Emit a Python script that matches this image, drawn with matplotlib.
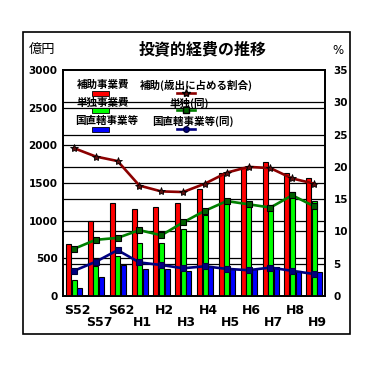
import matplotlib
matplotlib.use("Agg")
import matplotlib.pyplot as plt
import numpy as np
from matplotlib.patches import Rectangle
from matplotlib.lines import Line2D
import matplotlib.transforms as mtransforms

plt.rcParams['font.family'] = ['Noto Sans CJK JP', 'DejaVu Sans']

categories = ["S52", "S57", "S62", "H1", "H2", "H3", "H4", "H5", "H6", "H7", "H8", "H9"]
hojo = [685, 1000, 1230, 1150, 1177, 1230, 1416, 1628, 1717, 1774, 1628, 1571]
tandoku = [208, 398, 527, 699, 699, 885, 1075, 1285, 1235, 1208, 1385, 1261]
chokkatsu = [102, 252, 412, 358, 358, 327, 398, 354, 354, 389, 336, 314]
hojo_pct = [22.9, 21.6, 20.9, 17.1, 16.2, 16.1, 17.4, 19.1, 20.0, 19.8, 18.2, 17.4]
tandoku_pct = [7.3, 8.7, 9.0, 10.2, 9.4, 11.4, 13.2, 14.7, 14.2, 13.7, 15.6, 13.9]
chokkatsu_pct = [3.9, 5.3, 7.1, 5.2, 4.8, 4.3, 4.6, 4.2, 4.0, 4.4, 3.9, 3.4]

left_ticks = [0, 500, 1000, 1500, 2000, 2500, 3000]
right_ticks = [0, 5, 10, 15, 20, 25, 30, 35]

W, H = 367, 382
fig = plt.figure(figsize=(W / 100, H / 100), dpi=100)

def fx(px):
    return px / W

def fy(py):
    return 1 - py / H

# outer frame
fig.patches.append(Rectangle((fx(23), fy(334)), fx(350) - fx(23), fy(32) - fy(334),
                             transform=fig.transFigure, fill=False, edgecolor='black', linewidth=1.2))

ax = fig.add_axes([fx(63), fy(296), fx(325) - fx(63), fy(70) - fy(296)])
ax2 = ax.twinx()

x = np.arange(len(categories))
bw = 0.23
red, green, blue = '#ff0000', '#00ff00', '#0000ff'
ax.bar(x - 0.245, hojo, bw, color=red, edgecolor='black', linewidth=0.8, zorder=3)
ax.bar(x + 0.01, tandoku, bw, color=green, edgecolor='black', linewidth=0.8, zorder=3)
ax.bar(x + 0.265, chokkatsu, bw, color=blue, edgecolor='black', linewidth=0.8, zorder=3)

ax.set_xlim(-0.5, len(categories) - 0.5)
ax.set_ylim(0, 3000)
ax2.set_ylim(0, 35)

# grid lines: left ticks and right ticks (drawn behind bars)
for t in left_ticks[1:-1]:
    ax.axhline(t, color='black', linewidth=0.9, zorder=1)
scale = 3000 / 35
for t in right_ticks[1:-1]:
    ax.axhline(t * scale, color='black', linewidth=0.9, zorder=1)

lw = 1.9
ax2.plot(x, hojo_pct, color='#8b0000', linewidth=lw, marker='*', markersize=6,
         markerfacecolor='#5a1010', markeredgecolor='black', markeredgewidth=0.6, zorder=4)
ax2.plot(x, tandoku_pct, color='#008000', linewidth=lw, marker='s', markersize=5,
         markerfacecolor='#006000', markeredgecolor='black', markeredgewidth=0.8, zorder=4)
ax2.plot(x, chokkatsu_pct, color='#000080', linewidth=lw, marker='s', markersize=4.5,
         markerfacecolor='#000080', markeredgecolor='#000040', markeredgewidth=0.8, zorder=4)

ax.set_yticks(left_ticks)
ax.set_yticklabels([str(t) for t in left_ticks], fontsize=7.5, fontweight='bold', family='DejaVu Sans')
ax2.set_yticks(right_ticks)
ax2.set_yticklabels([str(t) for t in right_ticks], fontsize=7.5, fontweight='bold', family='DejaVu Sans')
ax.tick_params(axis='y', length=0, pad=4)
ax2.tick_params(axis='y', length=0, pad=6)
ax.set_xticks([])
for a in (ax, ax2):
    for s in a.spines.values():
        s.set_linewidth(1.3)

trans = mtransforms.blended_transform_factory(ax.transData, fig.transFigure)
for i, c in enumerate(categories):
    ypix = 311 if i % 2 == 0 else 323
    ax.text(i + 0.15, fy(ypix), c, transform=trans, ha='center', va='center',
            fontsize=9, family='DejaVu Sans', fontweight='bold')

# title & units
fig.text(fx(203), fy(49), "投資的経費の推移", ha='center', va='center', fontsize=11.5, fontweight='bold')
fig.text(fx(29), fy(49), "億円", ha='left', va='center', fontsize=9.5)
fig.text(fx(338), fy(51), "%", ha='center', va='center', fontsize=8.5, family='DejaVu Sans')

# legend
lfs = 7.6
fig.text(fx(103), fy(85), "補助事業費", ha='center', va='center', fontsize=lfs, fontweight='bold')
fig.text(fx(196), fy(85), "補助(歳出に占める割合)", ha='center', va='center', fontsize=lfs, fontweight='bold')
fig.text(fx(103), fy(103), "単独事業費", ha='center', va='center', fontsize=lfs, fontweight='bold')
fig.text(fx(189), fy(103), "単独(同)", ha='center', va='center', fontsize=lfs, fontweight='bold')
fig.text(fx(107), fy(121), "国直轄事業等", ha='center', va='center', fontsize=lfs, fontweight='bold')
fig.text(fx(193), fy(121), "国直轄事業等(同)", ha='center', va='center', fontsize=lfs, fontweight='bold')

for (ytop, col) in [(91, red), (108, green), (127, blue)]:
    fig.patches.append(Rectangle((fx(92), fy(ytop + 5)), fx(109) - fx(92), fy(ytop) - fy(ytop + 5),
                                 transform=fig.transFigure, facecolor=col, edgecolor='black', linewidth=0.6))

legend_lines = [
    (93, '#8b0000', '*', '#5a1010', 'black', 6),
    (110, '#008000', 's', '#006000', 'black', 5),
    (129, '#000080', 'o', '#000080', '#000040', 4),
]
for ypix, col, mk, mfc, mec, ms in legend_lines:
    fig.lines.append(Line2D([fx(177), fx(195)], [fy(ypix), fy(ypix)], transform=fig.transFigure,
                            color=col, linewidth=lw))
    fig.lines.append(Line2D([fx(186)], [fy(ypix)], transform=fig.transFigure, marker=mk,
                            markersize=ms, markerfacecolor=mfc, markeredgecolor=mec, linestyle='none'))

fig.savefig("out.png", dpi=100)
